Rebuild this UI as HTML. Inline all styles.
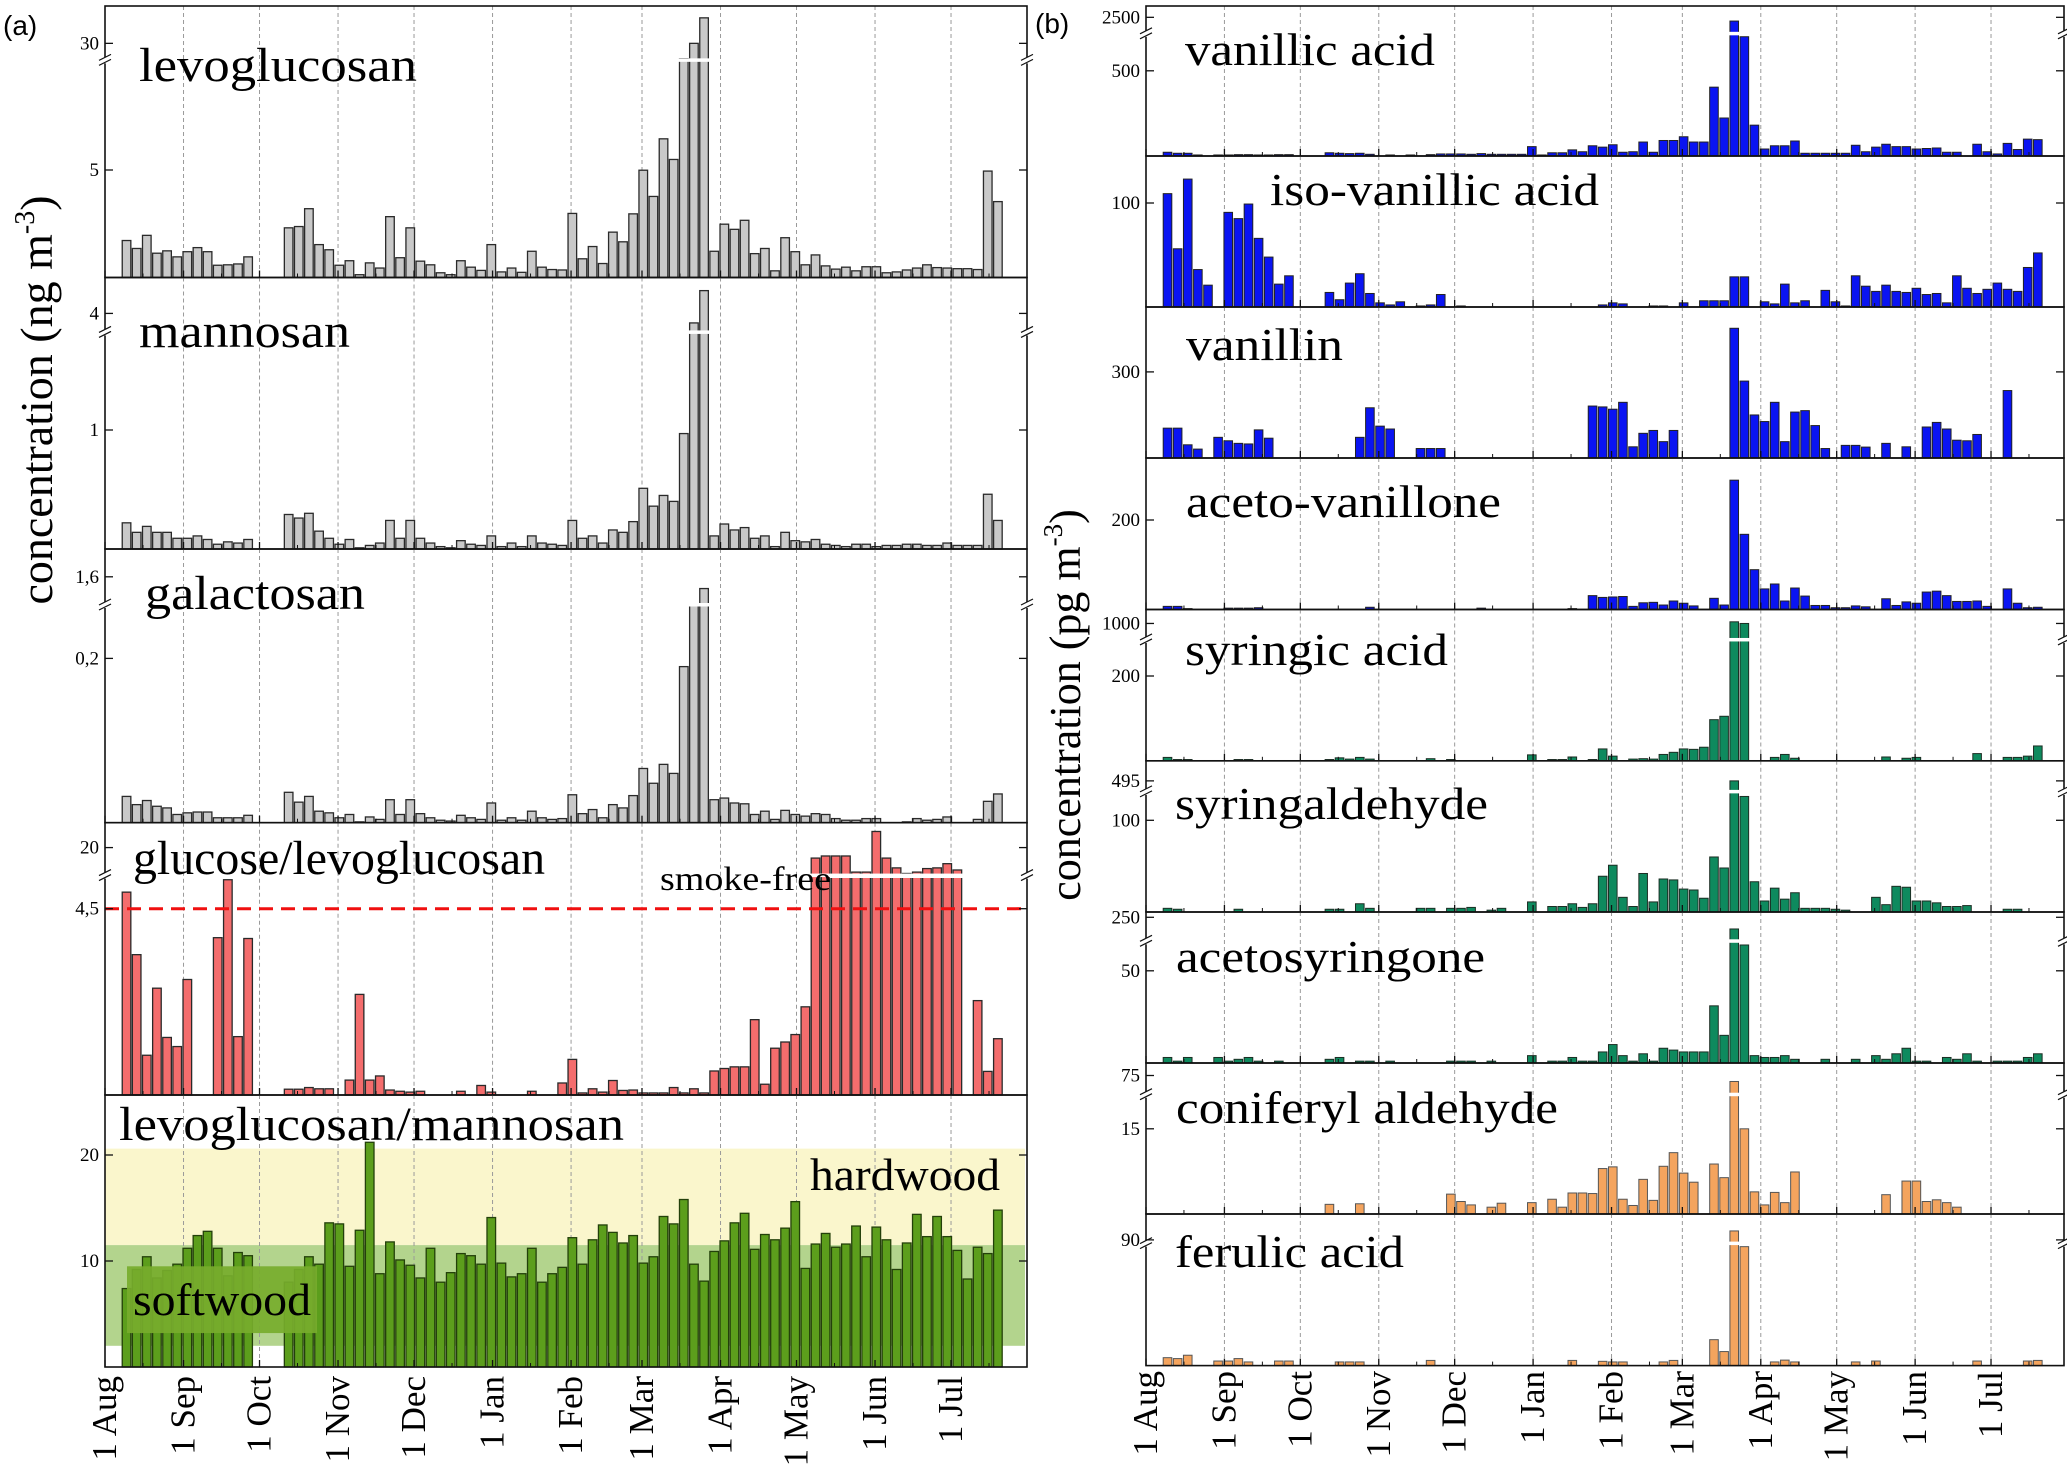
<!DOCTYPE html>
<html><head><meta charset="utf-8"><title>Biomass burning tracers</title>
<style>
html,body{margin:0;padding:0;background:#fff;}
svg{display:block;}
text{font-family:"Liberation Serif",serif;fill:#000;}
</style></head>
<body>
<svg id="chart" width="2067" height="1471" viewBox="0 0 2067 1471" xmlns="http://www.w3.org/2000/svg">
<text x="3" y="35" style="font-family:'Liberation Sans',sans-serif;font-size:28px">(a)</text>
<text x="1035" y="33" style="font-family:'Liberation Sans',sans-serif;font-size:28px">(b)</text>
<text transform="translate(52,400) rotate(-90)" text-anchor="middle" style="font-size:46px">concentration (ng m<tspan dy="-18" style="font-size:28px">-3</tspan><tspan dy="18">)</tspan></text>
<text transform="translate(1080,705) rotate(-90)" text-anchor="middle" style="font-size:44px">concentration (pg m<tspan dy="-18" style="font-size:27px">-3</tspan><tspan dy="18">)</tspan></text>
<g id="layer"></g>
</svg>
<script>
// ---------- data ----------
const monthLabels = ["1 Aug","1 Sep","1 Oct","1 Nov","1 Dec","1 Jan","1 Feb","1 Mar","1 Apr","1 May","1 Jun","1 Jul"];
const monthDays = [0,31,61,92,122,153,184,212,243,273,304,334];
const sampleCount = 87;
const levoglucosan = [1.72,1.35,1.96,1.13,1.24,0.96,1.2,1.39,1.2,0.57,0.59,0.63,0.96,null,null,null,
2.31,2.37,3.2,1.53,1.29,0.57,0.78,0.13,0.68,0.44,2.83,0.92,2.31,0.76,0.59,0.22,0.13,0.78,0.48,0.33,1.53,0.26,0.44,0.24,1.22,0.48,0.37,0.35,2.98,0.87,1.44,0.65,2.11,1.66,2.96,4.99,3.77,6.45,5.49,12,30,60,
1.22,2.48,2.24,2.66,1.11,1.35,0.31,1.85,1.2,0.59,1.05,0.54,0.39,0.48,0.31,0.5,0.5,0.22,0.26,0.35,0.44,0.59,0.46,0.44,0.41,0.41,0.37,4.95,3.53];
const mannosan = [0.22,0.14,0.19,0.14,0.14,0.09,0.09,0.11,0.08,0.04,0.06,0.05,0.08,null,null,null,
0.29,0.26,0.3,0.15,0.09,0.04,0.08,0.01,0.03,0.05,0.24,0.09,0.24,0.09,0.05,0.02,0.01,0.07,0.04,0.03,0.11,0.02,0.05,0.02,0.11,0.05,0.04,0.03,0.24,0.09,0.11,0.05,0.16,0.14,0.23,0.51,0.36,0.45,0.4,0.97,3.5,5.2,
0.11,0.21,0.16,0.18,0.09,0.11,0.02,0.14,0.07,0.06,0.08,0.04,0.03,0.02,0.04,0.04,0.02,0.03,0.03,0.04,0.04,0.03,0.03,0.05,0.03,0.03,0.03,0.46,0.24];
const galactosan = [0.032,0.022,0.027,0.02,0.018,0.01,0.012,0.013,0.013,0.006,0.006,0.006,0.009,null,null,null,
0.037,0.025,0.032,0.014,0.012,0.006,0.01,0.001,0.007,0.004,0.028,0.01,0.028,0.011,0.006,0.003,0.002,0.009,0.006,0.004,0.024,0.003,0.006,0.003,0.014,0.006,0.004,0.005,0.034,0.011,0.016,0.006,0.022,0.018,0.033,0.066,0.048,0.071,0.06,0.19,1.0,1.35,
0.028,0.03,0.024,0.023,0.01,0.014,0.004,0.015,0.01,0.008,0.011,0.01,0.005,0.003,0.003,0.005,0.005,0,0,0.001,0.005,0.003,0.004,0.007,0,0,0.004,0.026,0.035];
const glucoseRatio = [4.9,3.39,0.96,2.58,1.39,1.17,2.79,null,null,3.8,5.2,1.41,3.78,null,null,null,
0.14,0.14,0.18,0.15,0.15,0,0.36,2.43,0.36,0.46,0.12,0.09,0.07,0.09,0,0,0,0.09,0,0.23,0.07,0,0,0,0.09,0,0,0.29,0.86,0.05,0.15,0.07,0.35,0.11,0.12,0.05,0.05,0.05,0.18,0.05,0.15,0.05,0.58,0.64,0.68,0.68,1.82,0.26,1.13,1.28,1.46,2.13,
18.5,18.8,18.8,18.8,16.5,16.5,22.3,18.5,17.1,16.3,16.5,17,17.1,17.7,16.8,null,2.28,0.57,1.36];
const levManRatio = [7.4,9.2,10.4,8.4,9.1,9.7,11.2,12.4,12.8,11.2,8.6,10.8,10.5,null,null,null,
8,9.2,10.4,9.7,13.6,13.5,9.5,12.9,21.2,8.8,11.8,10.1,9.6,8.4,11.2,8,8.9,10.7,10.5,9.7,14.1,9.8,8.5,8.8,11.2,8,8.8,9.4,12.2,9.7,12,13.4,12.7,11.7,12.4,9.8,10.4,14.2,13.5,15.8,9.7,8.1,10.9,11.9,13.6,14.5,11.1,12.5,12,13.1,15.6,9.3,11.6,12.6,11.3,11.6,13.3,10.4,13.2,12,9.2,11.7,14.4,12.3,14.2,12.3,11,8.3,11.3,10.7,14.8];
const vanillicAcid = [22,16,16,6,0,6,6,8,8,6,6,8,8,0,0,0,19,16,14,16,10,0,6,0,6,0,8,12,12,12,10,14,10,10,10,10,
55,6,19,19,36,25,60,52,66,22,25,82,22,91,91,113,82,82,404,223,2160,700,181,41,60,60,
88,16,16,16,16,16,63,25,52,69,55,55,41,44,47,22,22,0,69,25,12,74,38,99,96];
const isoVanillicAcid = [109,56,123,36,21,0,91,85,99,66,48,22,30,0,0,0,14,7,23,32,13,4,2,5,0,1,2,12,0,1,
0,0,0,0,0,0,0,0,0,0,0,0,0,2,4,3,0,0,1,1,0,4,0,6,6,6,29,29,0,5,3,22,4,6,0,16,5,1,30,20,15,21,15,14,18,12,13,4,30,18,13,17,23,17,15,38,52];
const vanillin = [104,104,46,31,0,72,60,51,49,98,69,0,0,0,0,0,0,0,0,72,175,111,101,0,0,33,33,33,
0,0,0,0,0,0,0,0,0,0,0,0,0,0,181,178,170,194,39,86,96,57,96,0,0,0,0,0,
452,268,150,127,194,57,160,165,113,33,0,44,44,38,0,51,0,39,0,108,124,101,62,60,82,0,0,235,0,0,0];
const acetoVanillone = [7,7,2,0,0,0,3,3,3,4,0,0,0,0,0,0,0,0,0,0,5,0,0,0,0,0,0,0,0,0,0,3,0,0,0,0,0,0,0,0,2,0,
31,27,28,29,7,15,16,10,19,14,8,0,25,10,289,168,89,46,57,19,48,30,9,9,4,4,8,6,0,24,9,17,14,39,41,31,18,18,19,7,0,46,14,4,5];
const syringicAcid = [8,3,3,0,0,0,0,3,3,0,0,0,0,0,0,0,3,7,4,8,4,0,0,0,0,0,5,0,3,0,0,0,0,0,0,0,14,0,3,3,9,0,3,28,11,0,4,5,4,15,20,28,27,32,97,105,1050,1000,
0,0,8,15,6,0,0,0,0,0,0,0,0,9,0,6,8,0,0,0,0,0,17,0,0,8,8,11,35];
const syringaldehyde = [4,3,0,0,0,0,0,3,0,0,0,0,0,0,0,0,3,3,0,9,4,0,0,0,0,4,4,0,4,4,5,0,2,4,0,0,11,0,6,6,9,5,
9,39,51,16,6,42,11,36,35,25,24,15,60,48,495,126,33,12,26,14,21,4,4,4,3,2,0,0,16,8,28,27,12,12,10,6,6,7,0,0,0,3,3,0,0];
const acetosyringone = [3,1,3,0,0,3,1,2,3,1,0,1,0,0,0,0,2,3,0,1,1,0,1,0,0,0,0,0,1,1,1,0,1,0,0,0,4,0,1,1,3,1,
1,6,10,4,1,5,1,8,7,6,6,6,31,15,177,64,4,3,3,4,2,0,0,2,0,0,2,0,4,2,5,8,1,1,0,3,2,5,1,0,1,1,1,3,5];
const coniferylAldehyde = [0,0,0,0,0,0,0,0,0,0,0,0,0,0,0,0,1.7,0,0,1.8,0,0,0,0,0,0,0,0,3.5,2.2,1.6,0,1.2,1.9,0,0,2,0,2.6,1.2,3.7,3.7,
3.6,8,8.3,2.6,1.5,6.1,2.4,8.4,10.8,7.2,5.6,0,8.8,6.4,61,15,3.9,1.6,3.8,2,7.4,0,0,0,0,0,0,0,0,3.4,0,5.8,5.8,2.2,2.5,2,1.2,0,0,0,0,0,0,0,0];
const ferulicAcid = [2.6,2.3,3.4,0,0,1.5,1.5,2.3,1.2,0,0,1.5,1.5,0,0,0,0,1.2,1.2,1.2,0,0,0,0,0,0,1.7,0,0,0,0,0,0,0,0,0,0,0,0,0,1.7,0,
0,1.4,1.2,1.2,0,0,0,1.2,1.7,0,0,0,8.5,4.6,211,39,0,0,1.2,1.8,1.2,0,0,0,0,0,1.2,0,1.5,0,0,0,0,0,0,0,0,0,1.5,0,0,0,0,1.5,1.7];
const glucoseThreshold = 4.5;

// ---------- drawing ----------
const NS = "http://www.w3.org/2000/svg";
const layer = document.getElementById("layer");
function mk(tag, attrs, parent){
  const e = document.createElementNS(NS, tag);
  for (const k in attrs) e.setAttribute(k, attrs[k]);
  (parent||layer).appendChild(e);
  return e;
}
function sampleDay(i){ return 8.5 + 4*i; }

const LEFT = {x0:105, x1:1027, pxDay:2.533};
const RIGHT = {x0:1146, x1:2064, pxDay:2.53};

function makeScale(c){
  const yBrk = c.brkLo!=null ? c.yb - c.brkLo*c.k : null;
  return function(v){
    if (c.brkLo==null || v<=c.brkLo) return c.yb - v*c.k;
    return Math.max(c.yTop, yBrk - Math.max(0, v - c.brkHi)*c.k2);
  };
}

function drawPanel(side, c, values, style, name){
  const g = mk("g", {});
  
  
  const y = makeScale(c);
  const xOf = d => side.x0 + d*side.pxDay;
  // background decorations
  if (c.bg) c.bg(g, y);
  // grid
  monthDays.forEach((d,j)=>{
    if (j===0) return;
    const gl = mk("line", {x1:xOf(d), x2:xOf(d), y1:c.yTop, y2:c.yb, stroke:"#9a9a9a", "stroke-width":1, "stroke-dasharray":"4,3"}, g);
    
    
  });
  // bars
  const bw = style.w;
  values.forEach((v,i)=>{
    if (v==null) return;
    const xc = xOf(sampleDay(i));
    const top = y(v);
    const r = mk("rect", {x:xc-bw/2, y:top, width:bw, height:Math.max(0,c.yb-top), fill:style.fill, stroke:style.stroke, "stroke-width":style.sw}, g);
    
    
    if (c.brkLo!=null && v>c.brkLo){
      const yB = c.yb - c.brkLo*c.k;
      const wl = mk("rect", {x:xc-bw/2-1, y:yB-2, width:bw+2, height:3.5, fill:"#fff"}, g);
      
      
    }
  });
  if (c.fg) c.fg(g, y);
  // frame
  const fr = mk("rect", {x:side.x0, y:c.yTop, width:side.x1-side.x0, height:c.yb-c.yTop, fill:"none", stroke:"#111", "stroke-width":1.6}, g);
  
  
  // bottom ticks
  monthDays.forEach(d=>{
    mk("line", {x1:xOf(d), x2:xOf(d), y1:c.yb, y2:c.yb-7, stroke:"#111", "stroke-width":1.3}, g);
    mk("line", {x1:xOf(d+15), x2:xOf(d+15), y1:c.yb, y2:c.yb-4, stroke:"#111", "stroke-width":1}, g);
  });
  // y ticks
  c.ticks.forEach((t,j)=>{
    const ty = y(t);
    mk("line", {x1:side.x0, x2:side.x0+8, y1:ty, y2:ty, stroke:"#111", "stroke-width":1.3}, g);
    mk("line", {x1:side.x1, x2:side.x1-8, y1:ty, y2:ty, stroke:"#111", "stroke-width":1.3}, g);
    const tl = mk("text", {x:side.x0-6, y:ty+6, "text-anchor":"end", style:"font-size:19px"}, g);
    tl.textContent = c.tickLabels[j];
    
    
  });
  // break marks
  if (c.brkLo!=null){
    const yB = c.yb - c.brkLo*c.k;
    [side.x0, side.x1].forEach(ax=>{
      mk("rect", {x:ax-6, y:yB-3, width:12, height:6, fill:"#fff"}, g);
      mk("line", {x1:ax-6, x2:ax+6, y1:yB, y2:yB-6, stroke:"#111", "stroke-width":1.2}, g);
      mk("line", {x1:ax-6, x2:ax+6, y1:yB+5, y2:yB-1, stroke:"#111", "stroke-width":1.2}, g);
    });
  }
  // title
  const tt = mk("text", {x:c.lx, y:c.ly, textLength:c.lw, lengthAdjust:"spacingAndGlyphs", style:"font-size:"+(c.lf||48)+"px"}, g);
  tt.textContent = c.label;
  
  
  return y;
}

const grayS = {fill:"#c9c9c9", stroke:"#2a2a2a", sw:1.3, w:8.6};
const redS = {fill:"#f46d6d", stroke:"#2a2a2a", sw:1.3, w:8.6};
const greenS = {fill:"#5c9e1c", stroke:"#23400a", sw:1.3, w:8.6};
const blueS = {fill:"#0a14f2", stroke:"#222", sw:1, w:8.6};
const tealS = {fill:"#0e8a5e", stroke:"#1c2e24", sw:1, w:8.6};
const orangeS = {fill:"#f4a45e", stroke:"#555", sw:1, w:8.6};

// left panels
drawPanel(LEFT, {yTop:6, yb:277.5, k:21.5, brkLo:10.1, brkHi:10, k2:0.85, ticks:[5,30], tickLabels:["5","30"], label:"levoglucosan", lx:139, ly:81, lw:278}, levoglucosan, grayS, "levoglucosan");
drawPanel(LEFT, {yTop:277.5, yb:549, k:119, brkLo:1.82, brkHi:3, k2:19, ticks:[1,4], tickLabels:["1","4"], label:"mannosan", lx:139, ly:347, lw:211}, mannosan, grayS, "mannosan");
drawPanel(LEFT, {yTop:549, yb:822.7, k:821.5, brkLo:0.265, brkHi:1.0, k2:47, ticks:[0.2,1.6], tickLabels:["0,2","1,6"], label:"galactosan", lx:145, ly:609, lw:220}, galactosan, grayS, "galactosan");
drawPanel(LEFT, {yTop:822.7, yb:1095, k:41.4, brkLo:5.3, brkHi:16, k2:7, ticks:[4.5,20], tickLabels:["4,5","20"], label:"glucose/levoglucosan", lx:133, ly:874, lw:412,
  fg:(g,y)=>{
    const yT = y(glucoseThreshold);
    const dl = mk("line", {x1:LEFT.x0, x2:LEFT.x1, y1:yT, y2:yT, stroke:"#f01010", "stroke-width":3, "stroke-dasharray":"14,8"}, g);
    
    
    const sl = mk("line", {x1:830, x2:970, y1:876, y2:876, stroke:"#fff", "stroke-width":4}, g);
    
    
    const st = mk("text", {x:660, y:890, textLength:171, lengthAdjust:"spacingAndGlyphs", style:"font-size:34px"}, g);
    st.textContent = "smoke-free";
    
    
  }}, glucoseRatio, redS, "glucose-levoglucosan");
drawPanel(LEFT, {yTop:1095, yb:1367, k:10.6, brkLo:null, ticks:[10,20], tickLabels:["10","20"], label:"levoglucosan/mannosan", lx:119, ly:1140, lw:505,
  bg:(g,y)=>{
    const hb = mk("rect", {x:LEFT.x0, y:y(20.6), width:LEFT.x1-LEFT.x0-2, height:y(11.5)-y(20.6), fill:"#faf6cc"}, g);
    
    
    const sb = mk("rect", {x:LEFT.x0, y:y(11.5), width:LEFT.x1-LEFT.x0-2, height:y(2)-y(11.5), fill:"#b3d48d"}, g);
    
    
  },
  fg:(g,y)=>{
    const sw = mk("rect", {x:127, y:y(9.5), width:190, height:y(3.2)-y(9.5), fill:"#77ad2c", opacity:0.92}, g);
    
    
    const t1 = mk("text", {x:810, y:1190, textLength:190, lengthAdjust:"spacingAndGlyphs", style:"font-size:46px"}, g);
    t1.textContent = "hardwood";
    
    
    const t2 = mk("text", {x:133, y:1315, textLength:178, lengthAdjust:"spacingAndGlyphs", style:"font-size:46px"}, g);
    t2.textContent = "softwood";
    
    
  }}, levManRatio, greenS, "levoglucosan-mannosan");

// right panels
drawPanel(RIGHT, {yTop:6, yb:156, k:0.1704, brkLo:717, brkHi:1000, k2:0.011, ticks:[500,2500], tickLabels:["500","2500"], label:"vanillic acid", lx:1185, ly:65, lw:250, lf:46}, vanillicAcid, blueS, "vanillic-acid");
drawPanel(RIGHT, {yTop:156, yb:307, k:1.04, brkLo:null, ticks:[100], tickLabels:["100"], label:"iso-vanillic acid", lx:1270, ly:205, lw:329, lf:46}, isoVanillicAcid, blueS, "iso-vanillic-acid");
drawPanel(RIGHT, {yTop:307, yb:458, k:0.287, brkLo:null, ticks:[300], tickLabels:["300"], label:"vanillin", lx:1186, ly:360, lw:157, lf:46}, vanillin, blueS, "vanillin");
drawPanel(RIGHT, {yTop:458, yb:609.5, k:0.4475, brkLo:null, ticks:[200], tickLabels:["200"], label:"aceto-vanillone", lx:1186, ly:517, lw:315, lf:46}, acetoVanillone, blueS, "aceto-vanillone");
drawPanel(RIGHT, {yTop:609.5, yb:760.8, k:0.424, brkLo:285, brkHi:500, k2:0.033, ticks:[200,1000], tickLabels:["200","1000"], label:"syringic acid", lx:1185, ly:665, lw:263, lf:46}, syringicAcid, tealS, "syringic-acid");
drawPanel(RIGHT, {yTop:760.8, yb:912, k:0.917, brkLo:131, brkHi:300, k2:0.0564, ticks:[100,495], tickLabels:["100","495"], label:"syringaldehyde", lx:1175, ly:819, lw:313, lf:46}, syringaldehyde, tealS, "syringaldehyde");
drawPanel(RIGHT, {yTop:912, yb:1063, k:1.844, brkLo:66, brkHi:100, k2:0.16, ticks:[50,250], tickLabels:["50","250"], label:"acetosyringone", lx:1176, ly:972, lw:309, lf:46}, acetosyringone, tealS, "acetosyringone");
drawPanel(RIGHT, {yTop:1063, yb:1214, k:5.68, brkLo:21, brkHi:30, k2:0.427, ticks:[15,75], tickLabels:["15","75"], label:"coniferyl aldehyde", lx:1176, ly:1123, lw:382, lf:46}, coniferylAldehyde, orangeS, "coniferyl-aldehyde");
drawPanel(RIGHT, {yTop:1214, yb:1365.6, k:3.05, brkLo:40, brkHi:40, k2:0.074, ticks:[90], tickLabels:["90"], label:"ferulic acid", lx:1175, ly:1267, lw:229, lf:46}, ferulicAcid, orangeS, "ferulic-acid");

// x-axis month labels
[[LEFT,1376],[RIGHT,1371]].forEach(([side,yy])=>{
  monthDays.forEach((d,j)=>{
    const x = side.x0 + d*side.pxDay;
    const t = mk("text", {transform:"translate("+(x+11)+","+yy+") rotate(-90)", "text-anchor":"end", style:"font-size:35px"});
    t.textContent = monthLabels[j];
    
    
  });
});
</script>
</body></html>
